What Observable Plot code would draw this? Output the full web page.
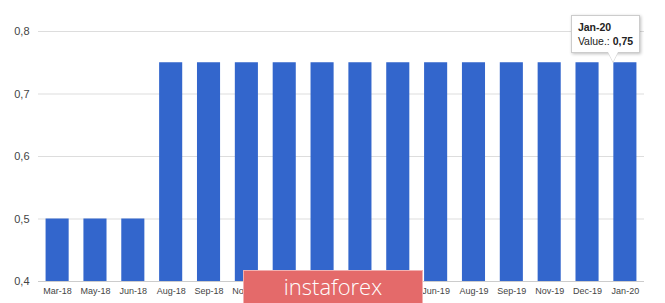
<!DOCTYPE html>
<html><head><meta charset="utf-8">
<script src="https://cdn.jsdelivr.net/npm/d3@7"></script>
<script src="https://cdn.jsdelivr.net/npm/@observablehq/plot@0.6"></script>
<style>
body{margin:0;background:#fff;font-family:"Liberation Sans",Arial,sans-serif;}
#wrap{position:relative;width:665px;height:303px;overflow:hidden;}
.tipbox{position:absolute;background:#fff;border:1px solid #ccc;box-shadow:1px 1px 3px rgba(0,0,0,0.25);padding:4px 6px;font-size:10.5px;color:#222;line-height:14px;white-space:nowrap;}
.tail{position:absolute;width:0;height:0;border-left:5px solid transparent;border-right:5px solid transparent;border-top:10px solid #fff;filter:drop-shadow(0 1px 0 #ccc);}
.wm{position:absolute;background:#e46a6a;color:#fff;font-family:"Open Sans","Liberation Sans",sans-serif;font-weight:300;font-size:22px;text-align:center;border:1px solid #f2b0b0;}
</style></head>
<body><div id="wrap"></div>
<script>
const months = ["Mar-18","May-18","Jun-18","Aug-18","Sep-18","Nov-18","Dec-18","Feb-19","Mar-19","May-19","Jun-19","Aug-19","Sep-19","Nov-19","Dec-19","Jan-20"];
const values = [0.5,0.5,0.5,0.75,0.75,0.75,0.75,0.75,0.75,0.75,0.75,0.75,0.75,0.75,0.75,0.75];
const yTicks = [0.4,0.5,0.6,0.7,0.8];
const tipMonth = "Jan-20";
const watermark = "instaforex";

const data = months.map((m,i)=>({month:m,value:values[i]}));
const fmt = v => String(v).replace(".", ",");

const chart = Plot.plot({
  width:665, height:303,
  marginTop:31, marginBottom:22, marginLeft:38, marginRight:21,
  style:{fontFamily:"Liberation Sans, Arial, sans-serif", fontSize:"9px", color:"#444", background:"#fff"},
  x:{domain:months, paddingInner:0.39, paddingOuter:0.2, round:false, label:null, tickSize:0, tickPadding:6},
  y:{domain:[0.4,0.8], ticks:yTicks, tickFormat:fmt, label:null, tickSize:0, tickPadding:9},
  marks:[
    Plot.gridY(yTicks,{stroke:"#ddd", strokeOpacity:1}),
    Plot.barY(data,{x:"month", y1:0.4, y2:"value", fill:"#3366cc"}),
    Plot.ruleY([0.4],{stroke:"#ccc"})
  ]
});
chart.querySelectorAll("g[aria-label='y-axis tick label']").forEach(e=>e.setAttribute("font-size","11"));
const wrap = document.getElementById("wrap");
wrap.appendChild(chart);

// tooltip anchored via scales
const xs = chart.scale("x"), ys = chart.scale("y");
const tipVal = values[months.indexOf(tipMonth)];
const bx = xs.apply(tipMonth) + xs.bandwidth/2, by = ys.apply(tipVal);
const tip = document.createElement("div");
tip.className = "tipbox";
tip.innerHTML = `<b>${tipMonth}</b><br>Value.: <b>${fmt(tipVal)}</b>`;
tip.style.left = (bx - 54) + "px";
tip.style.top = (by - 47) + "px";
wrap.appendChild(tip);
const tail = document.createElement("div");
tail.className = "tail";
tail.style.left = (bx - 17) + "px";
tail.style.top = (by - 10) + "px";
wrap.appendChild(tail);

// watermark
const wm = document.createElement("div");
wm.className = "wm";
wm.textContent = watermark;
wm.style.left = "243px"; wm.style.top = "270px"; wm.style.width = "178px"; wm.style.height = "33px"; wm.style.lineHeight = "31px";
wrap.appendChild(wm);
</script></body></html>
